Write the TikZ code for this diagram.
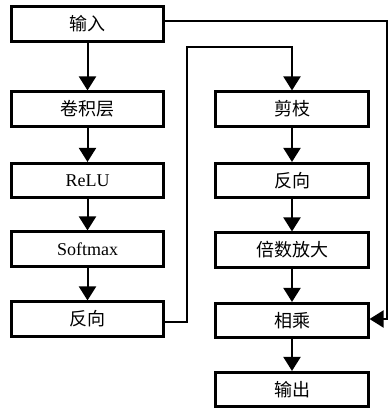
\documentclass[tikz,border=0pt]{standalone}
\usepackage{fontspec}
\setmainfont{Liberation Serif}
\newfontfamily\cjk{Noto Sans CJK SC}
\usetikzlibrary{arrows.meta}
\begin{document}
\begin{tikzpicture}[x=1pt,y=-1pt,
  box/.style={draw, line width=2.6pt, minimum width=152.5pt, minimum height=34.5pt, inner sep=0pt, font=\fontsize{18}{21}\selectfont},
  arr/.style={line width=2pt, -{Triangle[width=17pt,length=14pt]}},
  ln/.style={line width=2pt}]
\useasboundingbox (0,0) rectangle (389,410);
\node[box] (in)   at (87.5,24)   {\cjk 输入};
\node[box] (conv) at (87.5,109)  {\cjk 卷积层};
\node[box] (relu) at (87.5,180.5){ReLU};
\node[box] (soft) at (87.5,249)  {Softmax};
\node[box] (fx)   at (87.5,319)  {\cjk 反向};
\node[box] (prune) at (292,109)  {\cjk 剪枝};
\node[box] (fx2)   at (292,180.5){\cjk 反向};
\node[box] (scl)   at (292,250)  {\cjk 倍数放大};
\node[box] (mul)   at (292,320.5){\cjk 相乘};
\node[box] (out)   at (292,389.5){\cjk 输出};
\draw[arr] (in) -- (conv);
\draw[arr] (conv) -- (relu);
\draw[arr] (relu) -- (soft);
\draw[arr] (soft) -- (fx);
\draw[arr] (prune) -- (fx2);
\draw[arr] (fx2) -- (scl);
\draw[arr] (scl) -- (mul);
\draw[arr] (mul) -- (out);
\coordinate (top) at ([yshift=43pt]prune.north);
\draw[arr] ([yshift=-3pt]fx.east) -- ++(22,0) |- (top) -- (prune.north);
\draw[arr] ([yshift=3pt]in.east) -- ++(222,0) |- ([yshift=1.5pt]mul.east);
\end{tikzpicture}
\end{document}
